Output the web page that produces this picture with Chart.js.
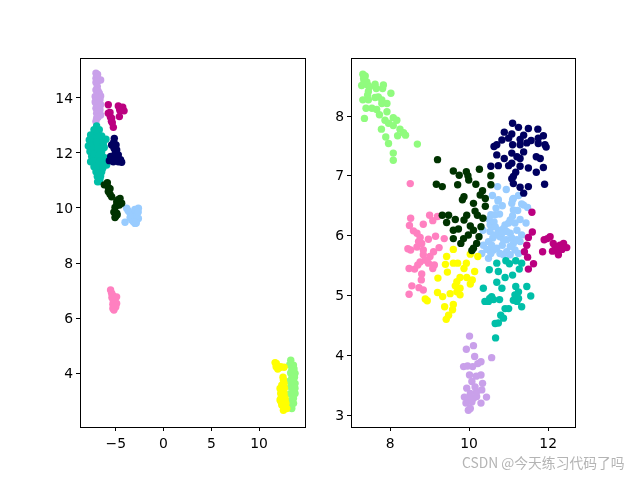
<!DOCTYPE html>
<html>
<head>
<meta charset="utf-8">
<script src="https://cdn.jsdelivr.net/npm/chart.js@4"></script>
<style>
  html, body { margin: 0; padding: 0; background: #fff; }
  body { width: 640px; height: 480px; position: relative; overflow: hidden; }
  canvas { position: absolute; top: 0; }
  #leftChart { left: 0; }
  #rightChart { left: 320px; }
  #mark { position: absolute; left: 462px; top: 452px; font: 13.8px "Noto Sans CJK SC", sans-serif; color: #b4b4b4; white-space: nowrap; }
</style>
</head>
<body>
<canvas id="leftChart" width="320" height="480"></canvas>
<canvas id="rightChart" width="320" height="480"></canvas>
<div id="mark">CSDN @今天练习代码了吗</div>
<script>
// left panel, [x, y]
const leftLime = [[13.31,4.47],[13.59,4.29],[13.42,4.11],[13.76,3.99],[13.42,3.81],[13.76,3.62],[13.59,3.44],[13.76,3.26],[13.59,3.08],[13.42,2.90],[13.42,2.71],[13.2,4.3],[13.3,4.0],[13.2,3.7],[13.65,4.15],[13.7,3.85],[13.3,3.5],[13.75,3.45],[13.25,3.25],[13.55,3.7],[13.3,3.0],[13.6,2.9],[13.2,2.75]];
const leftPurple = [[-7.07,14.90],[-6.93,14.80],[-7.07,14.71],[-6.58,14.65],[-7.07,14.56],[-6.93,14.41],[-7.07,14.29],[-6.72,14.17],[-6.58,14.07],[-7.07,13.99],[-6.65,13.93],[-7.07,13.81],[-6.58,13.75],[-7.07,13.62],[-6.65,13.56],[-7.00,13.44],[-6.58,13.38],[-7.00,13.26],[-7.07,13.14],[-6.9,14.6],[-6.85,14.25],[-6.85,14.0],[-6.85,13.75],[-6.85,13.5],[-6.85,13.3],[-7.15,13.85],[-6.7,13.65],[-7.15,14.05],[-6.9,14.85]];
const leftPink = [[-5.54,7.02],[-5.43,6.90],[-5.33,6.83],[-4.91,6.77],[-5.26,6.63],[-4.91,6.53],[-5.08,6.53],[-5.19,6.41],[-5.19,6.29],[-5.4,6.75],[-5.1,6.65],[-5.3,6.5],[-5.0,6.4],[-5.3,6.35]];
const leftBlue = [[-3.86,9.99],[-3.51,9.81],[-2.63,9.99],[-2.81,9.81],[-3.16,9.75],[-2.63,9.62],[-2.98,9.44],[-4.03,9.48],[-2.81,9.56],[-3.33,9.56],[-3.7,9.9],[-3.5,9.65],[-3.3,9.7],[-3.0,9.95],[-3.0,9.7],[-2.8,9.7],[-3.15,9.5],[-2.85,9.45],[-2.65,9.85]];
const leftYellow = [[11.67,4.38],[11.78,4.23],[12.26,4.23],[12.61,4.21],[12.54,3.75],[12.37,3.56],[12.61,3.62],[12.19,3.44],[12.26,3.26],[12.61,3.26],[12.19,3.02],[12.72,3.02],[12.37,2.84],[12.89,2.71],[12.54,2.65],[11.8,4.35],[11.95,4.15],[12.15,4.2],[12.4,3.4],[12.3,3.1],[12.7,3.1],[12.5,2.9],[12.8,2.9],[12.3,2.95],[12.65,3.45],[12.5,3.85]];
const leftTeal = [[-7.00,12.98],[-7.28,12.84],[-6.72,12.84],[-7.63,12.65],[-7.00,12.65],[-6.47,12.62],[-6.02,12.50],[-7.77,12.47],[-7.17,12.45],[-6.65,12.45],[-7.87,12.25],[-7.35,12.25],[-6.82,12.23],[-6.30,12.29],[-7.70,12.05],[-7.07,12.05],[-6.47,12.05],[-7.52,11.87],[-7.00,11.87],[-6.37,11.87],[-7.63,11.68],[-7.00,11.68],[-6.30,11.68],[-5.95,11.81],[-7.28,11.50],[-6.65,11.50],[-5.95,11.56],[-7.07,11.32],[-6.47,11.32],[-6.93,11.14],[-6.58,11.16],[-6.72,10.96],[-7.4,12.55],[-6.7,12.6],[-7.5,12.4],[-7.0,12.4],[-6.3,12.4],[-7.55,12.1],[-6.9,12.15],[-6.2,12.2],[-7.3,11.95],[-6.7,11.95],[-7.4,11.7],[-6.7,11.7],[-6.1,11.7],[-7.05,11.5],[-6.35,11.45],[-6.8,11.25],[-6.65,11.05],[-6.9,10.95]];
const leftMagenta = [[-5.78,13.75],[-5.60,13.47],[-5.78,13.44],[-5.43,13.26],[-5.36,13.10],[-5.25,12.93],[-4.73,13.71],[-4.27,13.66],[-4.13,13.53],[-4.55,13.53],[-4.62,13.32],[-5.55,13.3],[-5.45,13.15],[-4.4,13.6],[-4.6,13.6]];
const leftNavy = [[-5.15,12.53],[-5.43,12.29],[-4.97,12.29],[-4.90,12.11],[-5.18,12.17],[-4.73,11.93],[-5.53,11.87],[-4.90,11.84],[-5.67,11.72],[-5.25,11.68],[-4.38,11.66],[-4.73,11.68],[-5.2,12.4],[-5.05,12.0],[-5.3,12.3],[-5.4,11.75],[-5.0,11.75],[-4.5,11.75],[-4.9,11.95]];
const leftForest = [[-6.20,10.84],[-5.88,10.92],[-5.78,10.75],[-5.78,10.60],[-5.43,10.41],[-4.55,10.35],[-4.90,10.23],[-4.38,10.17],[-5.08,10.02],[-4.62,10.11],[-5.08,9.81],[-4.90,9.81],[-5.08,9.65],[-5.6,10.7],[-5.6,10.5],[-4.9,10.1],[-4.75,10.3],[-5.0,9.7],[-4.85,9.75],[-5.2,9.85]];

// right panel, same order of groups
const rightLime = [[7.31,8.70],[7.37,8.67],[7.34,8.60],[7.41,8.57],[7.28,8.51],[7.43,8.52],[7.48,8.49],[7.62,8.53],[7.65,8.46],[7.83,8.52],[7.81,8.46],[7.45,8.41],[7.43,8.35],[8.02,8.38],[7.62,8.31],[7.70,8.32],[7.31,8.27],[7.45,8.27],[7.79,8.27],[7.79,8.21],[7.92,8.21],[7.39,8.13],[7.54,8.13],[7.66,8.11],[7.73,8.02],[7.92,8.07],[7.35,7.96],[8.08,7.97],[8.17,7.93],[7.87,7.93],[7.96,7.88],[8.08,7.84],[8.25,7.78],[7.78,7.78],[8.19,7.67],[8.39,7.68],[8.34,7.72],[7.89,7.65],[7.96,7.54],[8.69,7.53],[8.08,7.38],[8.08,7.26],[7.34,8.55],[7.33,8.63]];
const rightPurple = [[10.01,4.32],[10.11,4.16],[9.93,4.10],[10.14,3.98],[10.57,3.96],[10.30,3.89],[10.22,3.86],[10.09,3.81],[9.86,3.81],[9.96,3.82],[10.01,3.67],[10.18,3.65],[10.30,3.67],[10.07,3.56],[9.94,3.45],[10.34,3.53],[10.32,3.42],[10.19,3.39],[10.03,3.36],[9.88,3.30],[10.44,3.30],[10.11,3.28],[9.98,3.28],[9.92,3.20],[10.30,3.20],[10.07,3.22],[9.98,3.08],[10.03,3.11],[10.19,3.31],[10.15,3.47]];
const rightPink = [[8.52,6.29],[9.00,6.34],[8.84,6.19],[9.08,6.25],[9.20,6.32],[8.49,6.17],[8.59,6.08],[8.68,6.04],[8.76,5.97],[8.72,5.90],[8.68,5.81],[8.45,5.78],[8.52,5.76],[8.84,5.76],[8.97,5.94],[9.15,5.99],[9.24,5.80],[9.37,5.95],[9.10,5.73],[8.84,5.68],[9.01,5.65],[8.76,5.56],[8.70,5.51],[8.97,5.54],[9.08,5.45],[8.48,5.45],[8.62,5.44],[8.80,5.36],[8.79,5.26],[8.55,5.16],[8.73,5.13],[8.84,5.09],[8.48,5.02],[9.12,5.51],[8.89,5.59],[8.80,5.87],[8.51,6.87]];
const rightBlue = [[10.59,6.67],[10.73,6.58],[11.12,6.62],[11.08,6.54],[11.33,6.53],[11.48,6.47],[10.68,6.46],[10.84,6.50],[10.77,6.36],[10.55,6.35],[10.51,6.27],[11.23,6.42],[11.10,6.33],[11.04,6.26],[10.91,6.18],[11.29,6.27],[11.44,6.21],[10.53,6.18],[10.53,6.07],[10.74,6.09],[10.87,6.12],[11.21,6.09],[11.04,6.04],[11.33,6.01],[10.60,5.96],[10.49,5.90],[10.78,5.98],[10.95,5.93],[11.08,5.96],[10.36,5.84],[10.84,5.84],[11.12,5.87],[10.70,5.79],[10.45,5.77],[10.95,5.73],[11.16,5.76],[10.87,5.68],[10.32,5.70],[10.49,5.62],[11.25,5.70],[10.35,6.09],[10.63,6.23],[10.72,6.82],[10.94,6.77],[11.25,6.67],[10.74,6.60],[11.10,6.60],[11.38,6.51],[10.66,6.15],[10.95,6.07],[10.83,6.04],[10.66,6.01],[11.21,5.93],[10.87,5.93],[11.04,5.82],[10.57,5.84],[10.62,5.76],[11.00,6.21],[11.16,6.21],[11.12,6.43],[10.66,6.35],[11.29,5.90],[11.04,5.68],[10.78,5.70],[10.55,5.70]];
const rightYellow = [[9.60,5.77],[10.03,5.69],[10.22,5.65],[9.43,5.65],[9.40,5.52],[9.60,5.54],[9.71,5.54],[9.93,5.54],[9.87,5.45],[9.45,5.39],[10.14,5.40],[9.21,5.29],[9.77,5.30],[9.94,5.30],[10.08,5.26],[9.69,5.23],[9.65,5.16],[10.03,5.19],[9.77,5.12],[9.20,5.05],[9.33,4.98],[9.52,5.03],[9.69,5.06],[9.77,5.01],[8.94,4.91],[8.89,4.94],[9.60,4.85],[9.38,4.81],[9.58,4.76],[9.48,4.67],[9.42,4.60]];
const rightTeal = [[10.70,5.54],[10.93,5.58],[11.02,5.53],[11.18,5.58],[11.33,5.54],[11.27,5.44],[10.51,5.43],[10.74,5.40],[10.91,5.30],[11.10,5.34],[10.70,5.22],[10.36,5.12],[10.83,5.12],[11.18,5.15],[11.46,5.15],[11.25,5.06],[11.16,5.01],[11.12,4.92],[11.56,4.99],[10.57,4.98],[10.77,4.93],[10.40,4.90],[10.49,4.90],[11.21,4.90],[11.33,4.81],[10.91,4.78],[11.00,4.78],[10.80,4.67],[10.87,4.62],[10.74,4.54],[10.66,4.53],[10.67,4.29],[11.2,5.0],[11.25,4.95],[10.52,4.95],[10.62,4.93]];
const rightMagenta = [[11.59,6.39],[11.60,6.06],[11.50,5.97],[11.46,5.84],[11.40,5.73],[11.48,5.64],[11.63,5.53],[11.50,5.44],[11.86,5.73],[11.90,5.93],[12.05,5.98],[11.98,5.95],[12.13,5.87],[12.30,5.84],[12.39,5.87],[12.47,5.80],[12.26,5.76],[12.26,5.68],[12.11,5.74],[12.18,5.82],[12.35,5.77]];
const rightNavy = [[11.10,7.88],[11.25,7.81],[11.50,7.79],[11.74,7.78],[10.89,7.73],[11.08,7.70],[11.00,7.63],[10.83,7.60],[11.38,7.68],[11.88,7.67],[11.75,7.63],[10.70,7.52],[10.63,7.49],[11.29,7.61],[11.57,7.59],[11.46,7.55],[11.75,7.54],[11.10,7.52],[11.29,7.52],[11.92,7.52],[11.95,7.48],[11.38,7.40],[10.70,7.35],[11.08,7.38],[11.21,7.32],[10.89,7.29],[11.29,7.29],[11.70,7.32],[11.80,7.29],[11.08,7.21],[11.00,7.17],[10.74,7.17],[10.55,7.16],[11.29,7.16],[11.88,7.14],[11.50,7.13],[11.70,7.06],[11.18,7.06],[11.12,6.99],[11.08,6.95],[11.12,6.87],[11.29,6.81],[11.50,6.82],[11.91,6.86],[11.38,6.71]];
const rightForest = [[9.20,7.27],[9.60,7.08],[9.75,7.01],[9.93,7.07],[9.97,7.00],[9.99,6.93],[10.26,7.11],[10.17,6.86],[9.71,6.85],[9.17,6.86],[9.32,6.82],[10.55,6.85],[10.55,7.00],[10.34,6.75],[10.28,6.68],[10.41,6.62],[9.87,6.65],[9.83,6.60],[10.11,6.54],[10.41,6.49],[10.15,6.41],[10.21,6.34],[9.32,6.34],[9.48,6.34],[9.43,6.22],[9.65,6.27],[9.94,6.34],[9.87,6.26],[10.35,6.29],[10.03,6.16],[9.60,6.09],[9.73,6.11],[10.11,6.09],[10.30,6.15],[9.86,5.95],[9.98,6.01],[9.60,5.95],[9.79,5.87],[10.25,5.98],[10.19,5.87],[10.11,5.79],[10.07,5.75]];

const leftXTicks = [-5, 0, 5, 10];
const leftYTicks = [4, 6, 8, 10, 12, 14];
const rightXTicks = [8, 10, 12];
const rightYTicks = [3, 4, 5, 6, 7, 8];

const limeColor = '#90fb7e';
const purpleColor = '#c9a0ea';
const pinkColor = '#ff80c0';
const blueColor = '#99ccff';
const yellowColor = '#ffff00';
const tealColor = '#00bfa8';
const magentaColor = '#bb0080';
const navyColor = '#000060';
const forestColor = '#003300';

// chart.js paints dataset 0 last, so give it an explicit order instead
function series(points, color, order) {
    return {
        data: points.map(p => ({ x: p[0], y: p[1] })),
        backgroundColor: color,
        borderWidth: 0,
        pointRadius: 3.7,
        order: order
    };
}

const frame = {
    id: 'frame',
    afterDraw(chart) {
        const a = chart.chartArea;
        const c = chart.ctx;
        c.save();
        c.strokeStyle = '#000';
        c.lineWidth = 1;
        c.strokeRect(a.left + 0.5, a.top + 0.5, a.right - a.left, a.bottom - a.top);
        c.restore();
    }
};

function axis(min, max, ticks, fitKey, fitSize) {
    const isY = fitKey === 'width';
    return {
        type: 'linear',
        min: min,
        max: max,
        border: { display: false },
        grid: { drawOnChartArea: false, color: '#000', tickLength: 4, tickWidth: 1 },
        ticks: {
            color: '#000',
            autoSkip: false,
            maxRotation: 0,
            padding: isY ? 3 : 5,
            labelOffset: isY ? 1 : 0,
            font: { family: 'DejaVu Sans', size: 13.9 },
            callback: v => String(v).replace('-', '\u2212')
        },
        afterBuildTicks(scale) {
            scale.ticks = ticks.map(v => ({ value: v }));
        },
        afterFit(scale) {
            scale[fitKey] = fitSize;
        }
    };
}

function makeChart(id, datasets, xScale, yScale, rightGap) {
    new Chart(document.getElementById(id), {
        type: 'scatter',
        data: { datasets: datasets },
        options: {
            responsive: false,
            animation: false,
            events: [],
            layout: { padding: { left: 0, right: rightGap, top: 58, bottom: 0 } },
            plugins: { legend: { display: false }, tooltip: { enabled: false } },
            scales: { x: xScale, y: yScale }
        },
        plugins: [frame]
    });
}

makeChart('leftChart', [
    series(leftLime, limeColor, 9),
    series(leftPurple, purpleColor, 8),
    series(leftPink, pinkColor, 7),
    series(leftBlue, blueColor, 6),
    series(leftYellow, yellowColor, 5),
    series(leftTeal, tealColor, 4),
    series(leftMagenta, magentaColor, 3),
    series(leftNavy, navyColor, 2),
    series(leftForest, forestColor, 1)
], axis(-8.74, 14.8, leftXTicks, 'height', 53), axis(2.04, 15.45, leftYTicks, 'width', 80), 15);

makeChart('rightChart', [
    series(rightLime, limeColor, 9),
    series(rightPurple, purpleColor, 8),
    series(rightPink, pinkColor, 7),
    series(rightBlue, blueColor, 6),
    series(rightYellow, yellowColor, 5),
    series(rightTeal, tealColor, 4),
    series(rightMagenta, magentaColor, 3),
    series(rightNavy, navyColor, 2),
    series(rightForest, forestColor, 1)
], axis(7.01, 12.68, rightXTicks, 'height', 53), axis(2.8, 8.97, rightYTicks, 'width', 31), 65);
</script>
</body>
</html>
